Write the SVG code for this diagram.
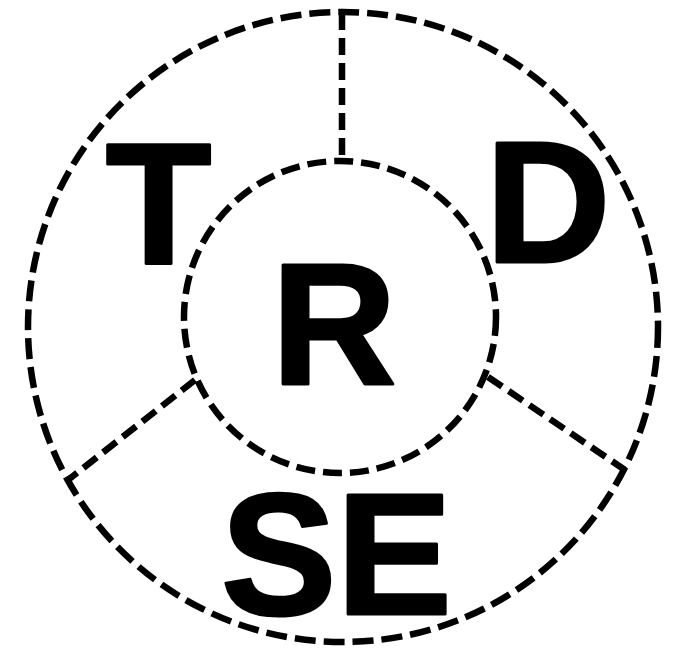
<svg xmlns="http://www.w3.org/2000/svg" width="682" height="651" viewBox="0 0 682 651">
<style>
.ring{fill:none;stroke:#000;stroke-width:6.5;stroke-dasharray:21 8}
.inner{fill:none;stroke:#000;stroke-width:6.5;stroke-dasharray:19 8}
.div{fill:none;stroke:#000;stroke-width:6.5;stroke-dasharray:17 8}
.lbl{font-family:"Liberation Sans",Arial,sans-serif;font-weight:bold;font-size:173px;fill:#000;stroke:#000;stroke-width:3;stroke-linejoin:round;text-anchor:middle}
</style>
<rect width="682" height="651" fill="#fff"/>
<g id="outer"><circle class="ring" cx="343" cy="327" r="315"/></g>
<g id="connectors">
<line class="div" x1="342" y1="13" x2="342" y2="161"/>
<line class="div" x1="195" y1="380" x2="68" y2="480"/>
<line class="div" x1="488" y1="377" x2="625" y2="470"/>
</g>
<g id="inner"><circle class="inner" cx="340" cy="317" r="156"/></g>
<g id="T"><text class="lbl" x="158.5" y="263.5">T</text></g>
<g id="D"><text class="lbl" x="548" y="261.5">D</text></g>
<g id="R"><text class="lbl" x="334" y="383.5">R</text></g>
<g id="SE"><text class="lbl" x="336.5" y="613.5">SE</text></g>
</svg>
